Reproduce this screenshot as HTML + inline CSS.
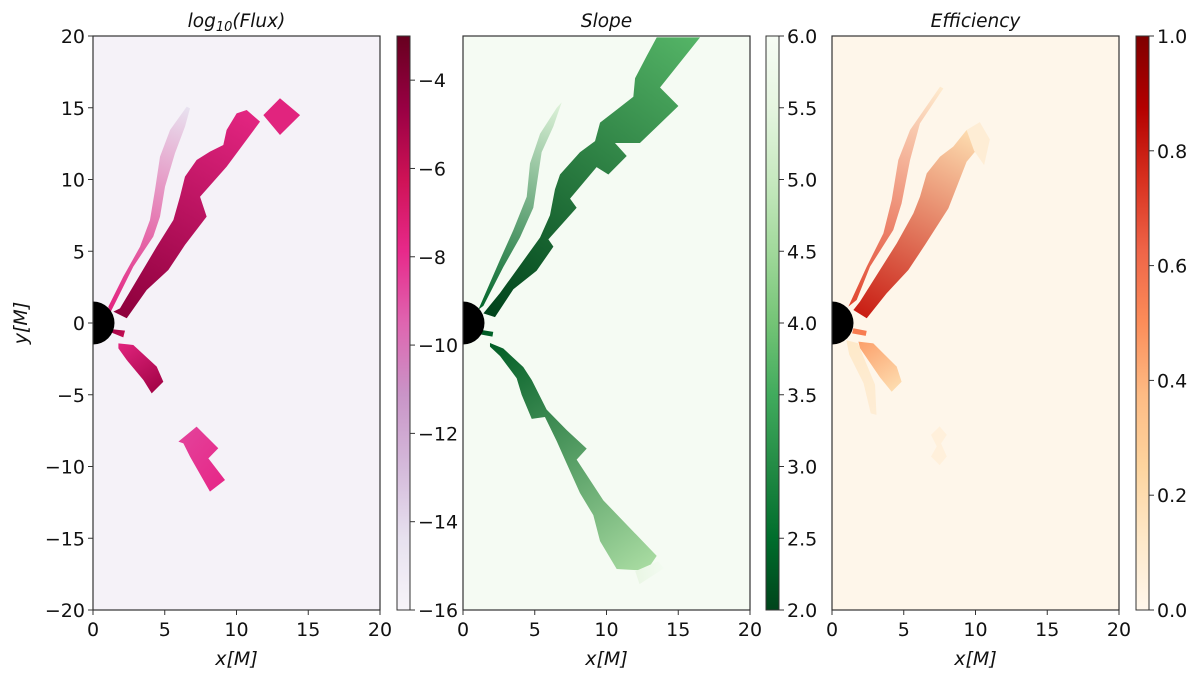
<!DOCTYPE html>
<html><head><meta charset="utf-8"><style>
html,body{margin:0;padding:0;background:#fff;}
svg{display:block;font-family:"DejaVu Sans","Liberation Sans",sans-serif;}
</style></head><body>
<svg id="fig" width="1200" height="678" viewBox="0 0 1200 678" xmlns="http://www.w3.org/2000/svg"></svg>
<script>
// ---- data ----
const xTicks = [0, 5, 10, 15, 20];
const yTicks = [20, 15, 10, 5, 0, -5, -10, -15, -20];
const panelTitles = ["Flux", "Slope", "Efficiency"];
const cbTicks1 = [-4, -6, -8, -10, -12, -14, -16];
const cbTicks2 = [2.0, 2.5, 3.0, 3.5, 4.0, 4.5, 5.0, 5.5, 6.0];
const cbTicks3 = [0.0, 0.2, 0.4, 0.6, 0.8, 1.0];
const cbRanges = [[-16, -3], [2, 6], [0, 1]];

const fluxMain = [[2.35,0.33],[3.74,2.30],[5.25,3.69],[6.41,5.44],[7.92,7.41],[7.46,8.80],[9.31,10.89],[11.64,14.03],[10.71,14.84],[10.01,14.61],[9.31,13.45],[9.08,12.40],[8.15,11.94],[7.22,11.36],[6.41,10.20],[6.06,8.80],[5.60,7.18],[4.44,5.32],[1.88,1.02],[1.42,0.79]];
const fluxSquare = [[11.87,14.49],[13.03,15.66],[14.43,14.49],[13.03,13.10]];
const fluxStripe = [[1.07,1.14],[2.11,3.23],[3.28,5.32],[3.97,7.18],[4.32,9.27],[4.67,11.59],[5.37,13.45],[6.53,15.08],[6.76,14.96],[6.41,13.68],[5.71,11.82],[5.02,9.50],[4.67,7.41],[4.20,6.02],[2.81,3.93],[1.65,1.60],[1.18,0.67]];
const fluxStub = [[1.42,-0.44],[2.23,-0.53],[2.11,-1.0],[1.3,-0.67]];
const fluxLow = [[1.77,-1.42],[2.81,-1.53],[4.44,-3.04],[4.90,-4.09],[4.09,-4.90],[3.51,-3.97],[2.35,-2.58],[1.77,-1.77]];
const fluxBlob = [[5.95,-8.27],[7.22,-7.22],[8.73,-8.73],[8.04,-9.43],[9.20,-10.94],[8.15,-11.75],[6.76,-9.31],[6.30,-8.39]];
const fluxValues = [[-4.3,-7.6],[-7.5,-7.5],[-7.6,-14.5],[-5,-6],[-7.5,-5],[-8.5,-7.8]];

const slopeMain = [[2.23,0.41],[3.51,2.35],[5.13,3.64],[6.30,5.32],[5.95,5.83],[7.92,8.03],[7.46,8.67],[9.31,10.86],[10.13,10.35],[11.41,11.64],[10.59,12.54],[12.33,12.54],[15.01,15.12],[13.73,16.41],[16.52,19.9],[13.50,19.9],[12.80,18.61],[11.99,17.06],[11.87,15.77],[10.71,14.86],[9.55,13.96],[9.20,12.67],[8.15,11.90],[6.76,10.35],[6.41,9.32],[6.06,7.51],[5.37,5.96],[4.44,4.67],[2.58,2.09],[1.42,0.67]];
const slopeStripe = [[1.07,0.93],[2.58,4.41],[3.51,6.48],[4.44,8.80],[4.67,11.12],[5.37,13.19],[6.53,14.99],[6.88,15.38],[6.30,13.70],[5.48,11.90],[5.13,9.57],[4.90,8.03],[3.97,5.96],[2.81,3.90],[1.42,1.19]];
const slopeLow = [[1.88,-1.39],[2.81,-1.78],[4.20,-3.07],[4.79,-3.97],[5.83,-6.04],[7.22,-7.46],[8.62,-8.75],[7.92,-9.52],[9.78,-12.36],[13.50,-16.23],[12.80,-17.26],[10.71,-17.14],[9.55,-15.20],[9.08,-13.39],[8.15,-11.85],[7.22,-9.78],[6.53,-8.23],[5.71,-6.55],[4.79,-6.68],[4.09,-5.01],[3.74,-3.85],[2.58,-2.30],[1.88,-1.65]];
const slopeStub = [[1.30,-0.49],[2.11,-0.62],[2.05,-0.95],[1.25,-0.80]];
const slopeTail = [[12.0,-17.3],[13.6,-16.6],[14.0,-17.1],[12.3,-18.2]];
const slopeValues = [[2.0,3.7],[2.4,5.4],[2.3,4.6],[2.2,2.4],[5.6,5.9]];

const effMain = [[2.42,0.33],[3.81,2.07],[5.32,3.69],[6.48,5.44],[8.11,7.99],[9.38,11.24],[10.55,12.64],[9.38,13.45],[8.45,12.29],[7.53,11.59],[6.60,10.43],[6.13,8.80],[5.67,7.64],[4.51,5.55],[1.95,1.49],[1.49,0.91]];
const effFaint = [[9.38,13.45],[10.3,14.0],[11.0,12.8],[10.6,11.0],[9.9,12.0]];
const effStripe = [[1.14,1.14],[2.42,3.93],[3.58,6.25],[4.16,8.57],[4.62,11.36],[5.44,13.45],[7.53,16.47],[7.76,16.35],[6.13,13.91],[5.44,11.36],[4.85,8.34],[4.27,6.48],[2.65,3.93],[1.72,1.60]];
const effStub = [[1.49,-0.37],[2.42,-0.55],[2.35,-0.90],[1.40,-0.72]];
const effLow = [[1.84,-1.30],[2.88,-1.42],[4.51,-3.04],[4.85,-4.09],[4.16,-4.79],[3.35,-3.80],[1.95,-1.75]];
const effStreak = [[1.0,-1.2],[1.8,-1.4],[3.0,-4.3],[3.1,-6.4],[2.7,-6.3],[2.2,-4.2],[1.2,-2.2]];
const effSquares = [[6.9,-7.8],[7.5,-7.2],[8.0,-7.8],[7.6,-8.4],[8.0,-9.3],[7.5,-9.9],[6.9,-9.3],[7.3,-8.6]];
const effValues = [[0.8,0.2],[0.08,0.08],[0.7,0.1],[0.55,0.55],[0.45,0.2],[0.12,0.08],[0.06,0.06]];

// ---- layout ----
const panels = [{x0:93,x1:380,cb:397},{x0:463,x1:750,cb:766},{x0:832,x1:1119,cb:1136}];
const Y0 = 36, Y1 = 610, CBW = 13, FS = 19;
const cmaps = [
 ["#f7f4f9","#e7e1ef","#d4b9da","#c994c7","#df65b0","#e7298a","#ce1256","#980043","#67001f"],
 ["#00441b","#006d2c","#238b45","#41ab5d","#74c476","#a1d99b","#c7e9c0","#e5f5e0","#f7fcf5"],
 ["#fff7ec","#fee8c8","#fdd49e","#fdbb84","#fc8d59","#ef6548","#d7301f","#b30000","#7f0000"]];
const bgs = ["#f5f2f8","#f5fbf3","#fef6ea"];

const NS = "http://www.w3.org/2000/svg";
const svg = document.getElementById("fig");
function mk(tag, attrs, parent){const e=document.createElementNS(NS,tag);for(const k in attrs)e.setAttribute(k,attrs[k]);(parent||svg).appendChild(e);return e;}
function hex(c){return [1,3,5].map(i=>parseInt(c.substr(i,2),16));}
function cmap(i,t){t=Math.max(0,Math.min(1,t));const s=cmaps[i];const p=t*(s.length-1);const k=Math.min(s.length-2,Math.floor(p));const f=p-k;const a=hex(s[k]),b=hex(s[k+1]);return "rgb("+a.map((v,j)=>Math.round(v+(b[j]-v)*f)).join(",")+")";}
function sx(p,x){return p.x0+(x/20)*(p.x1-p.x0);}
function sy(y){return Y0+(20-y)/40*(Y1-Y0);}
function norm(i,v){const r=cbRanges[i];return (v-r[0])/(r[1]-r[0]);}

const defs = mk("defs",{});
let gid=0;
function region(pi, pts, vals, name, g){
  const p=panels[pi];
  const first=pts[0];let far=pts[0],dm=-1;
  pts.forEach(q=>{const d=(q[0]-first[0])**2+(q[1]-first[1])**2;if(d>dm){dm=d;far=q;}});
  const id="g"+(gid++);
  const lg=mk("linearGradient",{id:id,gradientUnits:"userSpaceOnUse",x1:sx(p,first[0]),y1:sy(first[1]),x2:sx(p,far[0]),y2:sy(far[1])},defs);
  mk("stop",{offset:"0","stop-color":cmap(pi,norm(pi,vals[0]))},lg);
  mk("stop",{offset:"1","stop-color":cmap(pi,norm(pi,vals[1]))},lg);
  const el=mk("polygon",{points:pts.map(q=>sx(p,q[0])+","+sy(q[1])).join(" "),fill:"url(#"+id+")"},g);
  
  
}

const regionSets = [
 [[fluxMain,"flux-main-band"],[fluxSquare,"flux-square"],[fluxStripe,"flux-thin-stripe"],[fluxStub,"flux-stub"],[fluxLow,"flux-lower-band"],[fluxBlob,"flux-lower-blob"]],
 [[slopeMain,"slope-main-band"],[slopeStripe,"slope-thin-stripe"],[slopeLow,"slope-lower-band"],[slopeStub,"slope-stub"],[slopeTail,"slope-tail"]],
 [[effMain,"efficiency-main-band"],[effFaint,"efficiency-faint-squares"],[effStripe,"efficiency-thin-stripe"],[effStub,"efficiency-stub"],[effLow,"efficiency-lower-band"],[effStreak,"efficiency-streaks"],[effSquares,"efficiency-lower-squares"]]];
const valueSets=[fluxValues,slopeValues,effValues];
const cbTickSets=[cbTicks1,cbTicks2,cbTicks3];

panels.forEach((p,pi)=>{
  const g=mk("g",{});
  
  
  const bg=mk("rect",{x:p.x0,y:Y0,width:p.x1-p.x0,height:Y1-Y0,fill:bgs[pi]},g);
  
  
  regionSets[pi].forEach((r,ri)=>region(pi,r[0],valueSets[pi][ri],r[1],g));
  const r=(1.5/20)*(p.x1-p.x0);
  const disc=mk("path",{d:`M${p.x0},${sy(0)-r} A${r},${r} 0 0 1 ${p.x0},${sy(0)+r} Z`,fill:"#000"},g);
  
  
  const fr=mk("rect",{x:p.x0,y:Y0,width:p.x1-p.x0,height:Y1-Y0,fill:"none",stroke:"#333","stroke-width":1.2},g);
  
  
  xTicks.forEach(t=>{
    const x=sx(p,t);
    mk("line",{x1:x,x2:x,y1:Y1,y2:Y1+5,stroke:"#333"},g);
    const tx=mk("text",{x:x,y:Y1+26,"text-anchor":"middle","font-size":FS,fill:"#111"},g);
    tx.textContent=t;
    
    
  });
  const xl=mk("text",{x:(p.x0+p.x1)/2,y:665,"text-anchor":"middle","font-size":FS,"font-style":"italic",fill:"#111"},g);
  xl.textContent="x[M]";
  
  
  if(pi===0){
    yTicks.forEach(t=>{
      const y=sy(t);
      mk("line",{x1:p.x0-5,x2:p.x0,y1:y,y2:y,stroke:"#333"},g);
      const ty=mk("text",{x:p.x0-8,y:y+7,"text-anchor":"end","font-size":FS,fill:"#111"},g);
      ty.textContent=t<0?"\u2212"+(-t):t;
      
      
    });
    const yl=mk("text",{x:0,y:0,transform:`translate(27,${sy(0)}) rotate(-90)`,"text-anchor":"middle","font-size":FS,"font-style":"italic",fill:"#111"},g);
    yl.textContent="y[M]";
    
    
  }
  const tt=mk("text",{x:(p.x0+p.x1)/2,y:27,"text-anchor":"middle","font-size":18.5,"font-style":"italic",fill:"#111"},g);
  if(pi===0){
    tt.appendChild(document.createTextNode("log"));
    const sub=mk("tspan",{"font-size":13,dy:4},tt); sub.textContent="10";
    const rest=mk("tspan",{dy:-4},tt); rest.textContent="(Flux)";
  } else tt.textContent=panelTitles[pi];
  
  
  const cg=mk("g",{});
  
  
  const id="cb"+pi;
  const lg=mk("linearGradient",{id:id,x1:0,y1:1,x2:0,y2:0},defs);
  cmaps[pi].forEach((c,k)=>mk("stop",{offset:k/(cmaps[pi].length-1),"stop-color":c},lg));
  mk("rect",{x:p.cb,y:Y0,width:CBW,height:Y1-Y0,fill:"url(#"+id+")",stroke:"#333","stroke-width":1},cg);
  const rg=cbRanges[pi];
  cbTickSets[pi].forEach(t=>{
    const y=Y1-(t-rg[0])/(rg[1]-rg[0])*(Y1-Y0);
    mk("line",{x1:p.cb+CBW,x2:p.cb+CBW+5,y1:y,y2:y,stroke:"#333"},cg);
    const lt=mk("text",{x:p.cb+CBW+8,y:y+7,"font-size":FS,fill:"#111"},cg);
    lt.textContent=(t<0?"\u2212"+(-t):(pi===0?t:t.toFixed(1)));
    
    
  });
});
</script>
</body></html>
